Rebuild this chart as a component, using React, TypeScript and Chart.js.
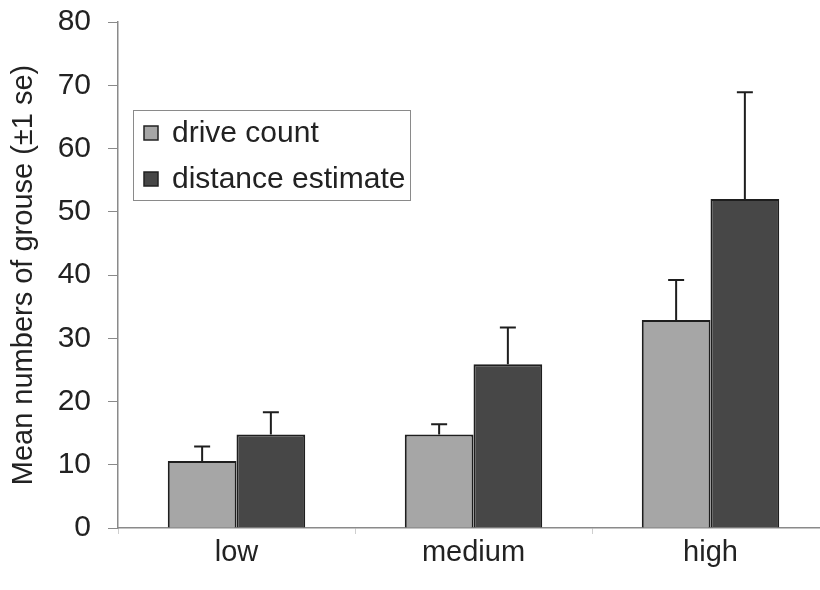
import React, { useEffect, useRef } from "react";
import { Chart, registerables } from "chart.js";

Chart.register(...registerables);

const categories = ["low", "medium", "high"];
const seriesNames = ["drive count", "distance estimate"];
const driveCount = [10.6, 14.8, 32.9];
const driveCountSE = [2.3, 1.6, 6.3];
const distanceEstimate = [14.8, 25.9, 52.0];
const distanceEstimateSE = [3.5, 5.8, 16.9];
const yMin = 0;
const yMax = 80;
const yStep = 10;
const yTitle = "Mean numbers of grouse (±1 se)";

const FONT = "'Liberation Sans', Arial, Helvetica, sans-serif";
const TEXT = "#222222";
const colors = ["#a6a6a6", "#474747"];
const seList = [driveCountSE, distanceEstimateSE];

const errorBarPlugin = {
  id: "errorBars",
  afterDatasetsDraw(chart: any) {
    const ctx = chart.ctx;
    const yScale = chart.scales.y;
    ctx.save();
    ctx.strokeStyle = "#1e1e1e";
    ctx.lineWidth = 2;
    chart.data.datasets.forEach((ds: any, di: number) => {
      const meta = chart.getDatasetMeta(di);
      meta.data.forEach((bar: any, i: number) => {
        const v = ds.data[i];
        const se = seList[di][i];
        const yTop = yScale.getPixelForValue(v);
        const yErr = yScale.getPixelForValue(v + se);
        ctx.beginPath();
        ctx.moveTo(bar.x, yTop);
        ctx.lineTo(bar.x, yErr);
        ctx.moveTo(bar.x - 8, yErr);
        ctx.lineTo(bar.x + 8, yErr);
        ctx.stroke();
      });
    });
    ctx.restore();
  },
};

const legendPlugin = {
  id: "insideLegend",
  afterDraw(chart: any) {
    const ctx = chart.ctx;
    const x = 133;
    const y = 110;
    const w = 277;
    const h = 90;
    ctx.save();
    ctx.fillStyle = "#ffffff";
    ctx.fillRect(x, y, w, h);
    ctx.strokeStyle = "#8a8a8a";
    ctx.lineWidth = 1;
    ctx.strokeRect(x + 0.5, y + 0.5, w, h);
    ctx.font = `30px ${FONT}`;
    ctx.textBaseline = "middle";
    chart.data.datasets.forEach((ds: any, i: number) => {
      const cy = y + 23 + i * 46;
      ctx.fillStyle = ds.backgroundColor;
      ctx.fillRect(x + 11, cy - 7, 14, 14);
      ctx.strokeStyle = "#222";
      ctx.lineWidth = 1.5;
      ctx.strokeRect(x + 11, cy - 7, 14, 14);
      ctx.fillStyle = TEXT;
      ctx.fillText(ds.label, x + 39, cy + 1);
    });
    ctx.restore();
  },
};

export default function App() {
  const ref = useRef<HTMLCanvasElement | null>(null);

  useEffect(() => {
    document.body.style.margin = "0";
    document.documentElement.style.overflow = "hidden";
    document.body.style.overflow = "hidden";
    const canvas = ref.current;
    if (!canvas) return;
    const chart = new Chart(canvas, {
      type: "bar",
      data: {
        labels: categories,
        datasets: [
          {
            label: seriesNames[0],
            data: driveCount,
            backgroundColor: colors[0],
            borderColor: "#1e1e1e",
            borderWidth: 2,
            categoryPercentage: 0.58,
            barPercentage: 1,
          },
          {
            label: seriesNames[1],
            data: distanceEstimate,
            backgroundColor: colors[1],
            borderColor: "#1e1e1e",
            borderWidth: 2,
            categoryPercentage: 0.58,
            barPercentage: 1,
          },
        ],
      },
      options: {
        responsive: false,
        animation: false,
        layout: { padding: { top: 22, right: 1, bottom: 0, left: 0 } },
        plugins: {
          legend: { display: false },
          tooltip: { enabled: false },
        },
        scales: {
          x: {
            grid: {
              display: true,
              drawOnChartArea: false,
              drawTicks: true,
              tickLength: 6,
              color: "#cfcfcf",
            },
            border: { display: true, color: "#8a8a8a", width: 1.5 },
            ticks: {
              color: TEXT,
              font: { family: FONT, size: 29 },
              padding: 2,
            },
            afterFit(scale: any) {
              scale.height = 62;
              scale.paddingLeft = 0;
              scale.paddingRight = 0;
            },
          },
          y: {
            min: yMin,
            max: yMax,
            ticks: {
              stepSize: yStep,
              color: TEXT,
              font: { family: FONT, size: 30 },
              padding: 17,
            },
            grid: {
              display: true,
              drawOnChartArea: false,
              drawTicks: true,
              tickLength: 10,
              color: "#8a8a8a",
            },
            border: { display: true, color: "#8a8a8a", width: 1.5 },
            title: {
              display: true,
              text: yTitle,
              color: TEXT,
              font: { family: FONT, size: 29 },
              padding: { top: 7, bottom: 0 },
            },
            afterFit(scale: any) {
              scale.width = 118;
              scale.paddingTop = 0;
              scale.paddingBottom = 0;
            },
          },
        },
      },
      plugins: [errorBarPlugin, legendPlugin],
    });
    return () => chart.destroy();
  }, []);

  return (
    <div style={{ width: 830, height: 590, overflow: "hidden", background: "#fff" }}>
      <canvas ref={ref} width={830} height={590} style={{ display: "block" }} />
    </div>
  );
}
